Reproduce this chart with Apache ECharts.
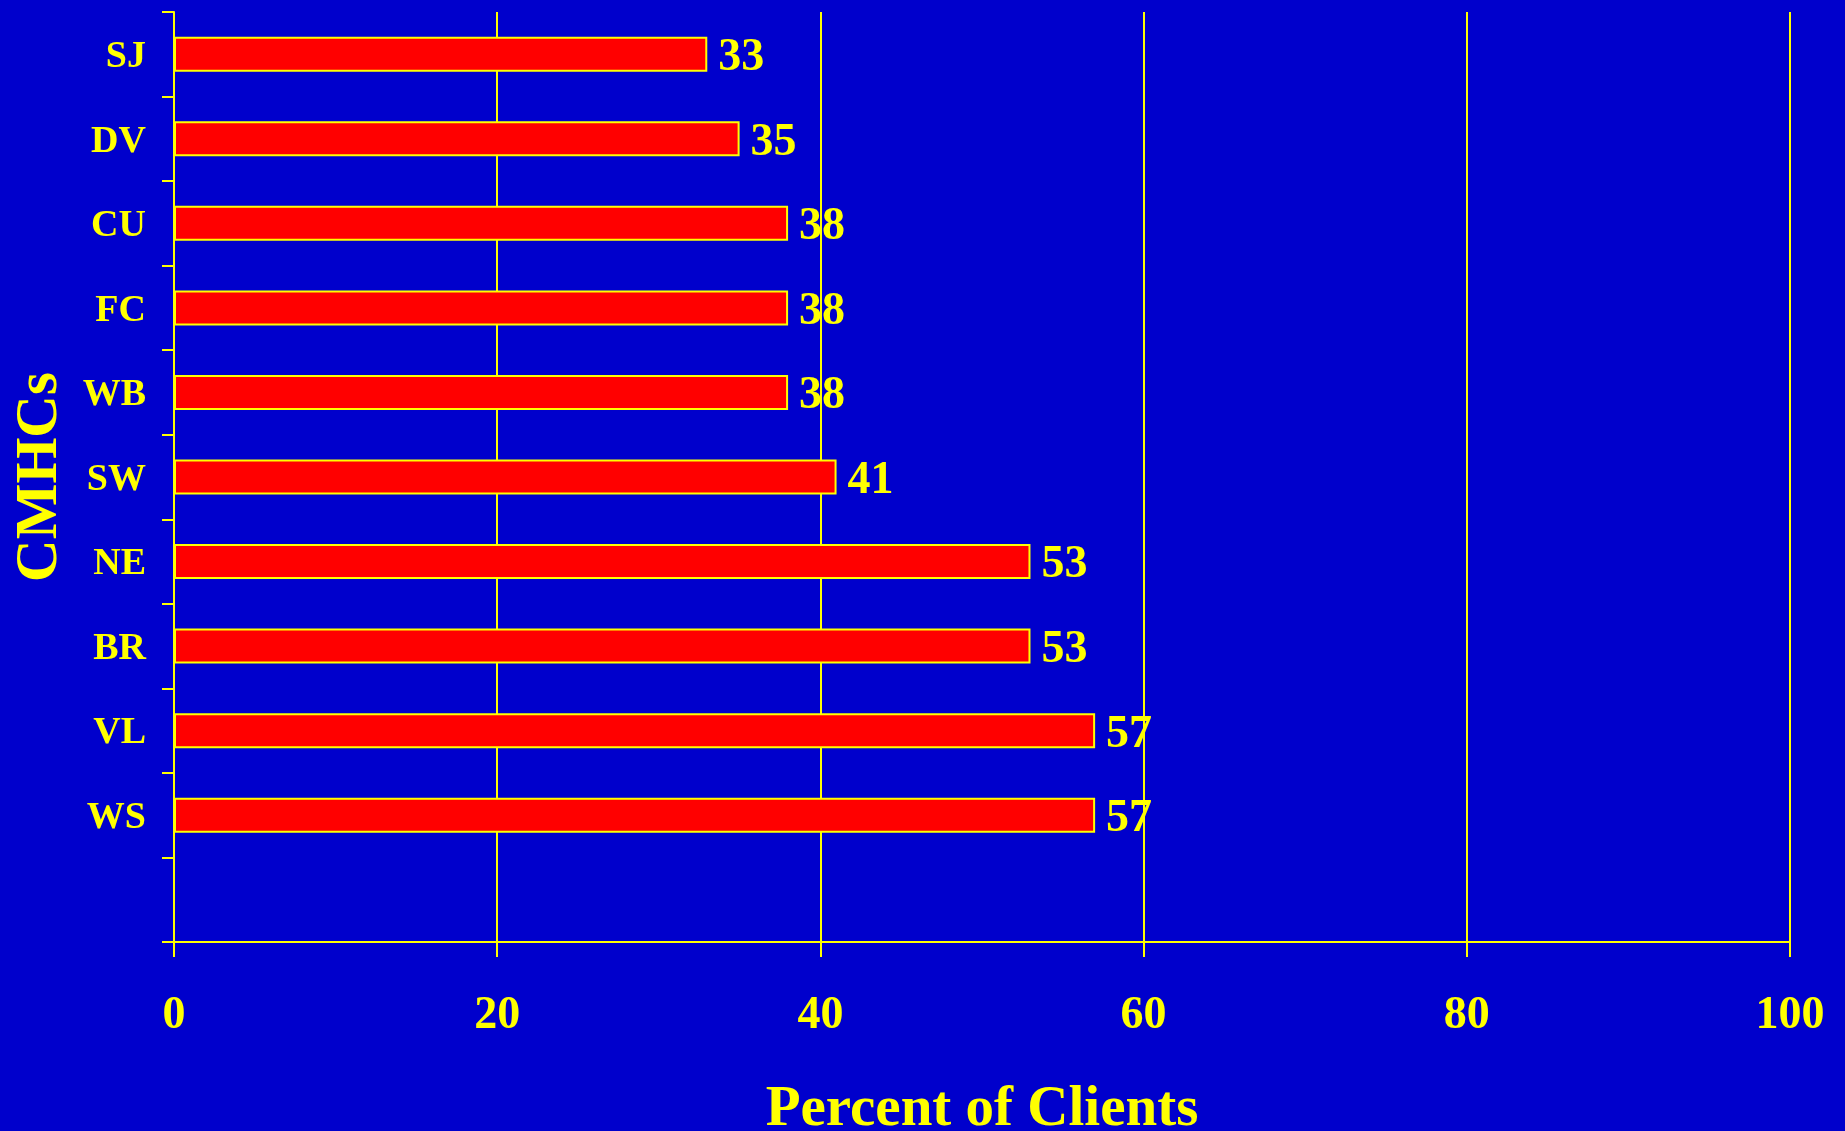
<!DOCTYPE html>
<html>
<head>
<meta charset="utf-8">
<title>CMHCs – Percent of Clients</title>
<style>
  html, body { margin: 0; padding: 0; background: #0000CC; }
  #chart { width: 1845px; height: 1131px; }
</style>
<script src="https://cdn.jsdelivr.net/npm/echarts@6/dist/echarts.min.js"></script>
</head>
<body>
<div id="chart"></div>
<script>
// Centres, listed top to bottom; the trailing blank slot leaves an empty row above the x axis.
const centres = ['SJ', 'DV', 'CU', 'FC', 'WB', 'SW', 'NE', 'BR', 'VL', 'WS', ''];
const percentClients = [33, 35, 38, 38, 38, 41, 53, 53, 57, 57];
const xTicks = [0, 20, 40, 60, 80, 100];

const YELLOW = '#FFFF00';
const FONT = '"Liberation Serif", "Times New Roman", serif';

const chart = echarts.init(document.getElementById('chart'), null, { renderer: 'canvas' });

chart.setOption({
  backgroundColor: '#0000CC',
  animation: false,
  grid: { left: 174, right: 55, top: 12, bottom: 189, outerBoundsMode: 'none', containLabel: false },
  xAxis: {
    type: 'value',
    min: xTicks[0],
    max: xTicks[xTicks.length - 1],
    interval: xTicks[1] - xTicks[0],
    name: 'Percent of Clients',
    nameLocation: 'middle',
    nameGap: 140,
    nameTextStyle: { color: YELLOW, fontFamily: FONT, fontWeight: 'bold', fontSize: 57 },
    axisLine: { show: true, lineStyle: { color: YELLOW, width: 2 } },
    axisTick: { show: true, length: 15, lineStyle: { color: YELLOW, width: 2 } },
    axisLabel: { color: YELLOW, fontFamily: FONT, fontWeight: 'bold', fontSize: 46, margin: 51 },
    splitLine: { show: true, lineStyle: { color: YELLOW, width: 2 } }
  },
  yAxis: {
    type: 'category',
    inverse: true,
    data: centres,
    name: 'CMHCs',
    nameLocation: 'middle',
    nameGap: 104,
    nameTextStyle: { color: YELLOW, fontFamily: FONT, fontWeight: 'bold', fontSize: 59 },
    axisLine: { show: true, lineStyle: { color: YELLOW, width: 2 } },
    axisTick: { show: true, length: 12, lineStyle: { color: YELLOW, width: 2 } },
    axisLabel: {
      color: YELLOW, fontFamily: FONT, fontWeight: 'bold', fontSize: 38, margin: 28,
      formatter: (v) => '{c|' + v + '}',
      rich: {
        c: { color: YELLOW, fontFamily: FONT, fontWeight: 'bold', fontSize: 38, padding: [6, 0, 0, 0] }
      }
    },
    splitLine: { show: false }
  },
  series: [{
    type: 'bar',
    data: percentClients,
    barWidth: 35,
    itemStyle: { color: '#FF0000', borderColor: YELLOW, borderWidth: 2 },
    label: {
      show: true,
      position: 'right',
      distance: 11,
      offset: [0, 4],
      color: YELLOW,
      fontFamily: FONT,
      fontWeight: 'bold',
      fontSize: 46
    }
  }]
});
</script>
</body>
</html>
